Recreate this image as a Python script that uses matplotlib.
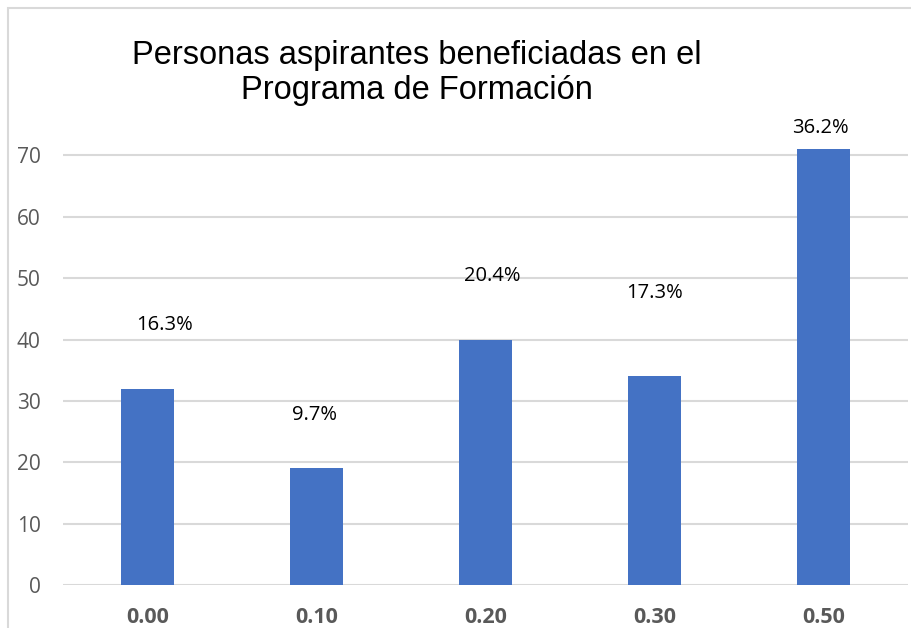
import matplotlib
matplotlib.use("Agg")
import matplotlib.pyplot as plt
from matplotlib.patches import Rectangle

categories = ['0.00', '0.10', '0.20', '0.30', '0.50']
values = [32, 19, 40, 34, 71]
pct_labels = ['16.3%', '9.7%', '20.4%', '17.3%', '36.2%']
label_heights = [42.3, 27.7, 50.3, 47.5, 74.4]
label_xshift = [0.1, -0.01, 0.04, 0.0, -0.02]
yticks = [0, 10, 20, 30, 40, 50, 60, 70]
title = 'Personas aspirantes beneficiadas en el\nPrograma de Formación'

fig = plt.figure(figsize=(9.12, 6.28), dpi=100)
fig.patch.set_facecolor('white')
ax = fig.add_axes([63/912, 43/628, (908-63)/912, (585-94)/628])

x = list(range(len(categories)))
ax.bar(x, values, width=0.314, color='#4472C4', zorder=3)
ax.set_xlim(-0.5, len(categories) - 0.5)
ax.set_ylim(0, 80)
ax.set_yticks(yticks)
ax.set_xticks(x)
ax.set_xticklabels(categories, fontfamily='Open Sans', fontweight='bold',
                   fontsize=15.5, color='#595959')
ax.set_yticklabels([str(t) for t in yticks], fontfamily='Open Sans',
                   fontsize=15, color='#595959')
ax.tick_params(axis='x', length=0, pad=16)
ax.tick_params(axis='y', length=0, pad=16)
ax.grid(axis='y', color='#d9d9d9', linewidth=1.5, zorder=0)
for s in ax.spines.values():
    s.set_visible(False)

for i, (lab, h, dx) in enumerate(zip(pct_labels, label_heights, label_xshift)):
    ax.text(i + dx, h, lab, ha='center', va='center', fontfamily='Open Sans',
            fontsize=14.5, color='black')

fig.text(417/912, 1 - 73/628, title, ha='center', va='center',
         fontfamily='Liberation Sans', fontsize=23.5, color='black', linespacing=1.2)

fig.patches.append(Rectangle((8/912, -0.05), 1.2, 1 - 8/628 + 0.05,
                             transform=fig.transFigure, fill=False,
                             edgecolor='#d9d9d9', linewidth=1.5))

fig.savefig('out.png', dpi=100)
